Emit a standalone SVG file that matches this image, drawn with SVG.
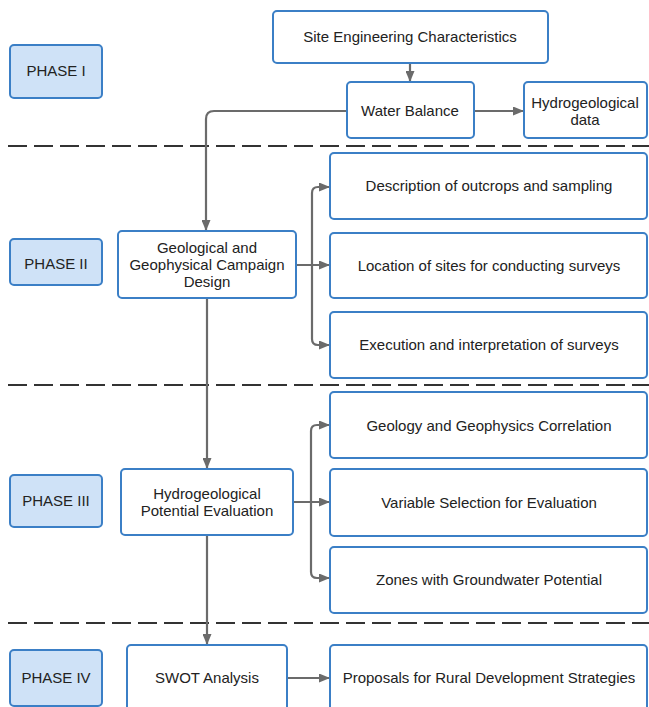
<svg xmlns="http://www.w3.org/2000/svg" width="649" height="707" viewBox="0 0 649 707">
<defs>
<marker id="arr" markerUnits="userSpaceOnUse" markerWidth="11" markerHeight="9" refX="10" refY="4.5" orient="auto">
<path d="M0,0 L11,4.5 L0,9 z" fill="#6b6b6b"/>
</marker>
<style>
.box{fill:#fff;stroke:#3b7fc6;stroke-width:2}
.ph{fill:#cfe2f7;stroke:#3b7fc6;stroke-width:2}
.t{font-family:"Liberation Sans",Arial,sans-serif;font-size:15px;fill:#222;text-anchor:middle}
.c{fill:none;stroke:#6b6b6b;stroke-width:2.2}
.dash{stroke:#333;stroke-width:2;stroke-dasharray:19 7}
</style>
</defs>
<rect width="649" height="707" fill="#fff"/>
<g id="separators">
<line class="dash" x1="8" y1="146" x2="649" y2="146"/>
<line class="dash" x1="8" y1="385" x2="649" y2="385"/>
<line class="dash" x1="8" y1="623" x2="649" y2="623"/>
</g>
<g id="connectors">
<path class="c" d="M410,63 V81" marker-end="url(#arr)"/>
<path class="c" d="M474,111 H523" marker-end="url(#arr)"/>
<path class="c" d="M347,111 H214 Q206,111 206,119 V230" marker-end="url(#arr)"/>
<path class="c" d="M207,298 V468" marker-end="url(#arr)"/>
<path class="c" d="M207,535 V644" marker-end="url(#arr)"/>
<path class="c" d="M287,678 H329" marker-end="url(#arr)"/>
<path class="c" d="M296,265 H329" marker-end="url(#arr)"/>
<path class="c" d="M312,265 V193 Q312,187 318,187 H329" marker-end="url(#arr)"/>
<path class="c" d="M312,265 V339 Q312,345 318,345 H329" marker-end="url(#arr)"/>
<path class="c" d="M293,502 H329" marker-end="url(#arr)"/>
<path class="c" d="M311,502 V431 Q311,425 317,425 H329" marker-end="url(#arr)"/>
<path class="c" d="M311,502 V572 Q311,578 317,578 H329" marker-end="url(#arr)"/>
</g>
<g id="phase1"><rect class="ph" x="10" y="45" width="92" height="53" rx="4"/><text class="t" x="56" y="76">PHASE I</text></g>
<g id="phase2"><rect class="ph" x="10" y="239" width="92" height="46" rx="4"/><text class="t" x="56" y="269">PHASE II</text></g>
<g id="phase3"><rect class="ph" x="10" y="475" width="92" height="52" rx="4"/><text class="t" x="56" y="506">PHASE III</text></g>
<g id="phase4"><rect class="ph" x="10" y="650" width="92" height="56" rx="4"/><text class="t" x="56" y="683">PHASE IV</text></g>
<g id="site"><rect class="box" x="273" y="11" width="275" height="52" rx="4"/><text class="t" x="410" y="42">Site Engineering Characteristics</text></g>
<g id="water"><rect class="box" x="347" y="82" width="127" height="56" rx="4"/><text class="t" x="410" y="116">Water Balance</text></g>
<g id="hydrodata"><rect class="box" x="524" y="82" width="123" height="56" rx="4"/><text class="t" x="585" y="108">Hydrogeological</text><text class="t" x="585" y="125">data</text></g>
<g id="geodesign"><rect class="box" x="118" y="231" width="178" height="67" rx="4"/><text class="t" x="207" y="253">Geological and</text><text class="t" x="207" y="270">Geophysical Campaign</text><text class="t" x="207" y="287">Design</text></g>
<g id="desc"><rect class="box" x="330" y="153" width="317" height="66" rx="4"/><text class="t" x="489" y="191">Description of outcrops and sampling</text></g>
<g id="loc"><rect class="box" x="330" y="233" width="317" height="65" rx="4"/><text class="t" x="489" y="271">Location of sites for conducting surveys</text></g>
<g id="exec"><rect class="box" x="330" y="312" width="317" height="66" rx="4"/><text class="t" x="489" y="350">Execution and interpretation of surveys</text></g>
<g id="hpe"><rect class="box" x="121" y="469" width="172" height="66" rx="4"/><text class="t" x="207" y="499">Hydrogeological</text><text class="t" x="207" y="516">Potential Evaluation</text></g>
<g id="ggc"><rect class="box" x="330" y="392" width="317" height="66" rx="4"/><text class="t" x="489" y="431">Geology and Geophysics Correlation</text></g>
<g id="vse"><rect class="box" x="330" y="469" width="317" height="67" rx="4"/><text class="t" x="489" y="508">Variable Selection for Evaluation</text></g>
<g id="zgp"><rect class="box" x="330" y="547" width="317" height="66" rx="4"/><text class="t" x="489" y="585">Zones with Groundwater Potential</text></g>
<g id="swot"><rect class="box" x="127" y="645" width="160" height="70" rx="4"/><text class="t" x="207" y="683">SWOT Analysis</text></g>
<g id="prop"><rect class="box" x="330" y="645" width="317" height="70" rx="4"/><text class="t" x="489" y="683">Proposals for Rural Development Strategies</text></g>
</svg>
